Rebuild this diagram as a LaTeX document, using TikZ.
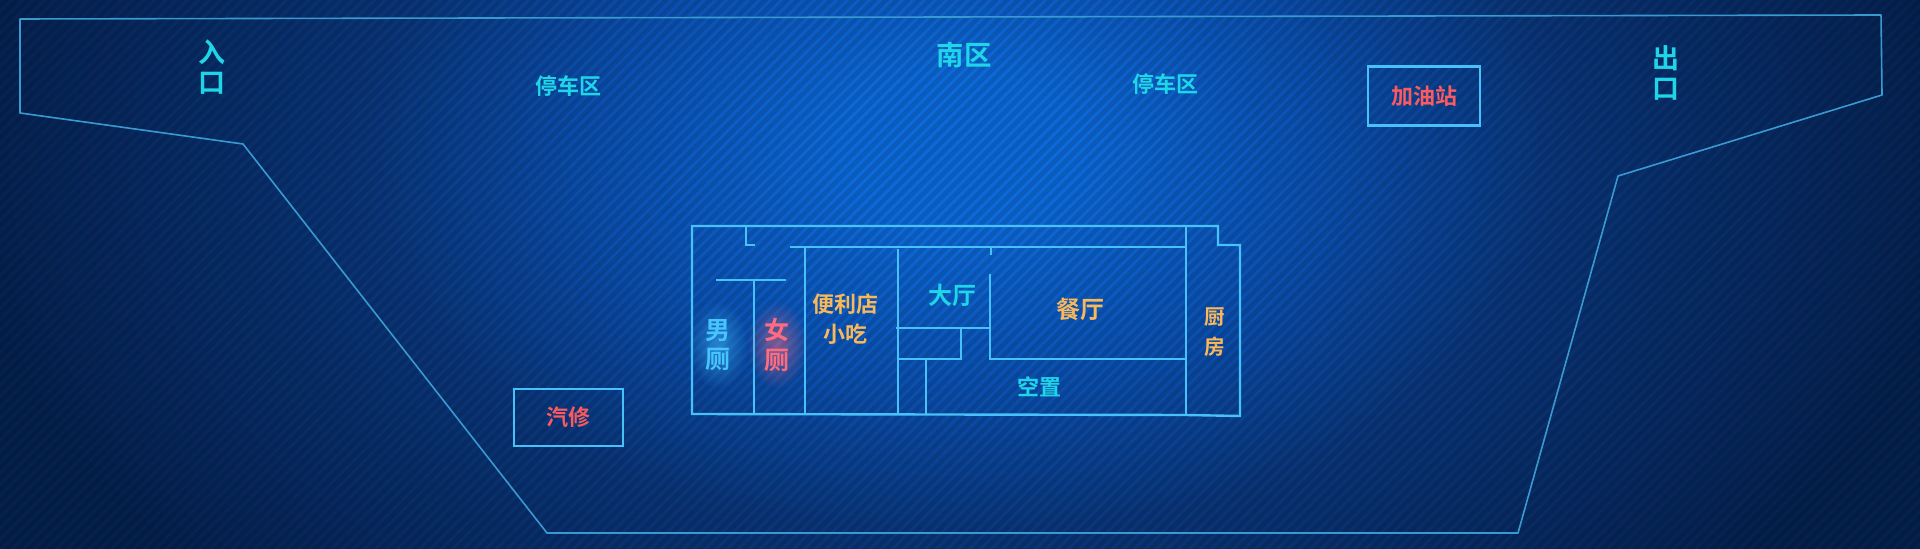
\documentclass[tikz,border=0pt]{standalone}
\usepackage{fontspec}
\setmainfont{Noto Sans CJK SC}[BoldFont={Noto Sans CJK SC Bold}]
\usetikzlibrary{fadings}
\definecolor{bgcore}{HTML}{0D69D8}
\definecolor{bgmid}{HTML}{0B50B0}
\definecolor{bgouter}{HTML}{0A3578}
\definecolor{bgedge}{HTML}{05214F}
\definecolor{wall}{HTML}{48C0F8}
\definecolor{yardline}{HTML}{3A9AD0}
\definecolor{cyantext}{HTML}{1FD6E8}
\definecolor{orangetext}{HTML}{F8B85C}
\definecolor{redtext}{HTML}{FA5A60}
\definecolor{bluetext}{HTML}{45C4FF}
\definecolor{pinktext}{HTML}{FF6C80}
\pgfdeclareradialshading{yardglow}{\pgfpoint{0bp}{0bp}}{%
  color(0bp)=(bgcore); color(2bp)=(bgcore); color(6bp)=(bgmid); color(10bp)=(bgouter); color(16.7bp)=(bgedge); color(50bp)=(bgedge)}
\tikzfading[name=softglow, inner color=transparent!50, outer color=transparent!100]
\tikzset{
  sign/.style={font=\bfseries\fontsize{#1}{#1}\selectfont, inner sep=0pt},
  tall/.style 2 args={align=center, font=\bfseries\fontsize{#1}{#2}\selectfont, inner sep=0pt},
  wallline/.style={wall, line width=1.2pt},
  yardedge/.style={yardline, line width=0.8pt, line join=round},
  stationbox/.style={draw=wall, line width=1.2pt, inner sep=0pt, text=redtext}
}
\begin{document}
\begin{tikzpicture}[x=0.5pt,y=-0.5pt]
  \useasboundingbox (0,0) rectangle (1920,549);
  \begin{scope}
    \clip (0,0) rectangle (1920,549);
    \shade[shading=yardglow] (960,150) ellipse (1500 and 980);
    % diagonal stripes
    \foreach \sx in {0,11,...,2475} {
      \draw[black, opacity=0.13, line width=2.2pt] (\sx,-5) -- (\sx-560,555);
    }
  \end{scope}

  % yard outline
  \draw[yardedge] (20,19) -- (1881,15) -- (1882,95) -- (1618,176) -- (1518,533) -- (547,533) -- (243,144) -- (20,113) -- cycle;

  % building
  \draw[wallline, line join=miter] (746,226) -- (692,226) -- (692,414) -- (1186,415) -- (1240,416) -- (1240,245) -- (1218,245) -- (1218,226) -- cycle;
  \draw[wallline] (746,226) -- (746,245) -- (755,245);
  \draw[wallline] (790,247) -- (1186,247);
  \draw[wallline] (1186,226) -- (1186,415);
  \draw[wallline] (805,247) -- (805,414);
  \draw[wallline] (898,249) -- (898,414);
  \draw[wallline] (991,247) -- (991,255);
  \draw[wallline] (990,274) -- (990,359) -- (1186,359);
  \draw[wallline] (896,328) -- (990,328);
  \draw[wallline] (961,328) -- (961,359) -- (898,359);
  \draw[wallline] (926,359) -- (926,414);
  \draw[wallline] (716,280) -- (786,280);
  \draw[wallline] (754,280) -- (754,414);

  % glow behind the toilets
  \fill[bluetext, path fading=softglow] (718,345) ellipse (30 and 44);
  \fill[pinktext, path fading=softglow] (777,345) ellipse (30 and 44);

  % stations
  \node[stationbox, minimum width=56pt, minimum height=29.5pt, sign=11] (gasstation) at (1424,96) {加油站};
  \node[stationbox, minimum width=54.5pt, minimum height=28.5pt, sign=11] (repair) at (568.5,417.5) {汽修};

  % yard labels
  \node[tall={13.5}{14.7}, text=cyantext] (entrance) at (212,67) {入\\口};
  \node[tall={13.5}{14.7}, text=cyantext] (leave) at (1666,73) {出\\口};
  \node[sign=13.7, text=cyantext] (south) at (964,55) {南区};
  \node[sign=11, text=cyantext] (parkleft) at (568,86) {停车区};
  \node[sign=11, text=cyantext] (parkright) at (1165,84) {停车区};

  % room labels
  \node[tall={12.5}{14.7}, text=bluetext] (men) at (718,345) {男\\厕};
  \node[tall={12.5}{14.7}, text=pinktext] (women) at (777,345) {女\\厕};
  \node[tall={11}{15}, text=orangetext] (shop) at (845,319) {便利店\\小吃};
  \node[sign=12, text=cyantext] (lobby) at (952,295) {大厅};
  \node[sign=12, text=orangetext] (dining) at (1080,309) {餐厅};
  \node[sign=11, text=cyantext] (vacant) at (1039,387) {空置};
  \node[tall={10.3}{15}, text=orangetext] (kitchen) at (1215,332) {厨\\房};
\end{tikzpicture}
\end{document}
